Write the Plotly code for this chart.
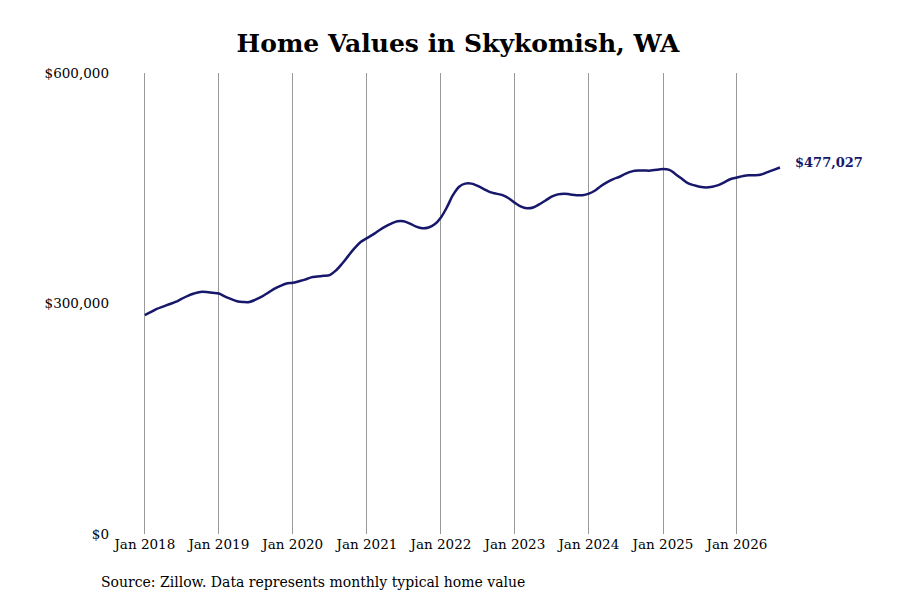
import pandas as pd
import plotly.graph_objects as go

# monthly typical home value, Jan 2018 .. Aug 2026 (thousands of $)
months = pd.date_range('2018-01-01', '2026-08-01', freq='MS')
values_k = [
    285, 289, 293, 296, 299, 302, 306, 310, 313, 315, 315, 314,   # 2018
    313, 309, 306, 303, 302, 302, 305, 309, 314, 319, 323, 326,   # 2019
    327, 329, 331, 334, 335, 336, 337, 343, 352, 362, 372, 380,   # 2020
    385, 390, 395, 400, 404, 407, 407, 404, 400, 398, 399, 403,   # 2021
    412, 426, 441, 452, 456, 456, 453, 449, 445, 443, 441, 437,   # 2022
    431, 426, 424, 425, 429, 434, 439, 442, 443, 442, 441, 441,   # 2023
    443, 447, 453, 458, 462, 465, 469, 472, 473, 473, 473, 474,   # 2024
    475, 474, 469, 463, 457, 454, 452, 451, 452, 454, 458, 462,   # 2025
    464, 466, 467, 467, 468, 471, 474, 477.027,                   # 2026
]
values = [v * 1000 for v in values_k]

tick_dates = pd.date_range('2018-01-01', '2026-01-01', freq='YS')
tick_text = [d.strftime('Jan %Y') for d in tick_dates]
y_ticks = [0, 300000, 600000]
y_text = ['$0', '$300,000', '$600,000']

navy = '#17176b'
font = 'DejaVu Serif'

fig = go.Figure()
fig.add_trace(go.Scatter(x=months, y=values, mode='lines', line=dict(color=navy, width=2.5, shape='spline'),
                         showlegend=False))

fig.add_annotation(x=months[-1], y=values[-1], text='<b>$' + format(round(values[-1]), ',') + '</b>',
                   showarrow=False, xanchor='left', xshift=13, yshift=5,
                   font=dict(family=font, size=13, color=navy))

fig.add_annotation(x=0, xref='paper', xanchor='left', xshift=-11, y=-0.104, yref='paper', yanchor='middle',
                   text='Source: Zillow. Data represents monthly typical home value', showarrow=False,
                   font=dict(family=font, size=14, color='black'))

fig.update_layout(
    width=900, height=600,
    margin=dict(l=102, r=108, t=65, b=74),
    paper_bgcolor='white', plot_bgcolor='white',
    title=dict(text='<b>Home Values in Skykomish, WA</b>', x=0.5, xanchor='center', y=0.942, yanchor='middle',
               font=dict(family=font, size=25, color='black')),
    font=dict(family=font, color='black'),
)
fig.update_xaxes(range=['2017-07-13', '2026-11-08'], tickvals=tick_dates, ticktext=tick_text,
                 showgrid=True, gridcolor='#999999', gridwidth=1, zeroline=False, showline=False,
                 tickfont=dict(size=13.5), ticks='')
fig.update_yaxes(range=[0, 600000], tickvals=y_ticks, ticktext=y_text, showgrid=False, zeroline=False,
                 showline=False, tickfont=dict(size=13.5), ticks='')

fig.write_html('out.html')
